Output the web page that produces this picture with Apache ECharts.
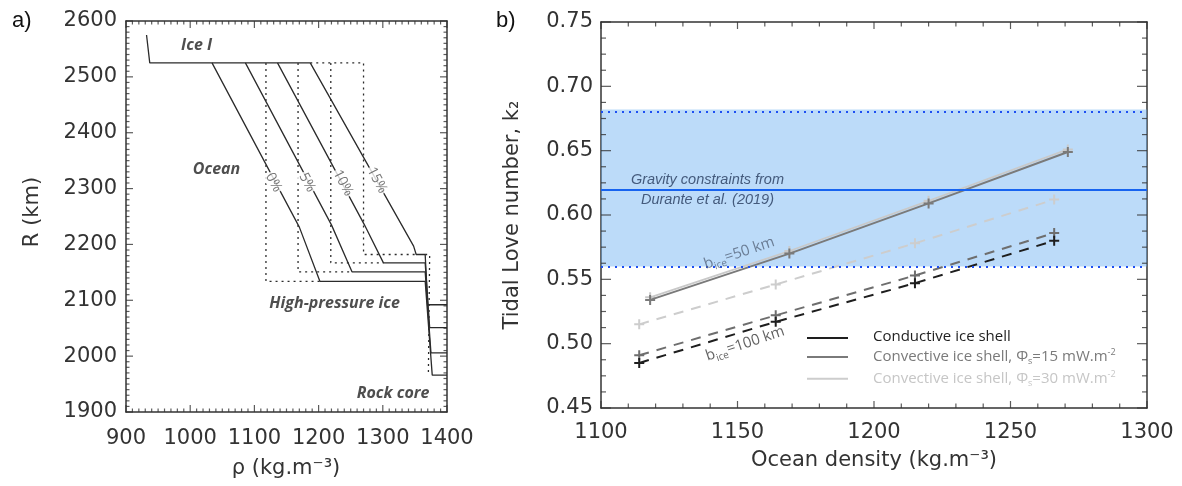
<!DOCTYPE html>
<html>
<head>
<meta charset="utf-8">
<script src="https://cdn.jsdelivr.net/npm/echarts@6/dist/echarts.min.js"></script>
<style>
  html, body { margin: 0; padding: 0; background: #fff; }
  #chart { width: 1182px; height: 486px; }
</style>
</head>
<body>
<div id="chart"></div>
<script>
// ---- panel a: density profiles, points are [rho (kg/m3), R (km)]
const iceShell = [[932, 2575], [937, 2525], [1187, 2525]]
const ocean0 = [[1034, 2525], [1170, 2231], [1202, 2134], [1366, 2134], [1377, 1966], [1400, 1966]]
const ocean5 = [[1086, 2525], [1220, 2235], [1252, 2151], [1366, 2151], [1375, 2006], [1400, 2006]]
const ocean10 = [[1136, 2525], [1271, 2236], [1301, 2167], [1366, 2167], [1373, 2051], [1400, 2051]]
const ocean15 = [[1187, 2525], [1348, 2197], [1352, 2182], [1366, 2182], [1370, 2092], [1400, 2092]]
const constRho0 = [[1118, 2525], [1118, 2134], [1202, 2134]]
const constRho5 = [[1168, 2525], [1168, 2151], [1252, 2151]]
const constRho10 = [[1219, 2525], [1219, 2167], [1301, 2167]]
const constRho15 = [[1187, 2525], [1270, 2525], [1270, 2182], [1352, 2182]]
const constRhoHP = [[1366, 2182], [1373, 2182], [1371, 1967]]
const salinityLabels = ['0%', '5%', '10%', '15%']

// ---- panel b: k2 versus ocean density
const density50 = [1118, 1169, 1220, 1271]
const density100 = [1114, 1164, 1215, 1266]
const k2Conv15Thin = [0.534, 0.570, 0.609, 0.649]
const k2Conv30Thin = [0.536, 0.572, 0.611, 0.651]
const k2CondThick = [0.485, 0.517, 0.547, 0.580]
const k2Conv15Thick = [0.491, 0.522, 0.553, 0.586]
const k2Conv30Thick = [0.515, 0.546, 0.578, 0.612]
const gravityLow = 0.560
const gravityMid = 0.620
const gravityHigh = 0.682

// axis ranges: [min, max, major step, minor step]
const rangeRho = [900, 1400, 100, 10]
const rangeR = [1900, 2600, 100, 10]
const rangeDensity = [1100, 1300, 50, 10]
const rangeK2 = [0.45, 0.75, 0.05, 0.0125]

const NAME_COND = 'Conductive ice shell'
const NAME_C15 = 'Convective ice shell, Φs=15 mW.m-2'
const NAME_C30 = 'Convective ice shell, Φs=30 mW.m-2'

const zip = (xs, ys) => xs.map((x, i) => [x, ys[i]])

const AX = '#333'
const TICK_FONT = 'DejaVu Sans'
const PLUS = 'path://M4,0 L6,0 L6,4 L10,4 L10,6 L6,6 L6,10 L4,10 L4,6 L0,6 L0,4 L4,4 Z'
const HIDDEN = {color: 'rgba(0,0,0,0)'}
const LEGEND_ICON = 'path://M0,0 L41,0 L41,2 L0,2 Z M61,0 L61,2 Z'

function steps (r, step) {
  const out = []
  const n = Math.round((r[1] - r[0]) / step)
  for (let i = 0; i <= n; i++) out.push(+(r[0] + i * step).toFixed(6))
  return out
}

function valueAxis (r, extra) {
  return Object.assign({
    type: 'value', min: r[0], max: r[1], interval: r[2],
    axisLine: {show: true, onZero: false, lineStyle: {color: AX, width: 1.5}},
    axisTick: {show: false},
    splitLine: {show: false},
    axisLabel: {show: false}
  }, extra)
}
const label = (margin, fmt) => ({show: true, color: AX, fontFamily: TICK_FONT, fontSize: 21, margin: margin, formatter: fmt || (v => String(v))})

// inward tick marks on all four sides, as thin rect symbols placed by the axes' scales
function boxTicks (xi, yi, xr, yr, len) {
  const data = []
  const xMajor = steps(xr, xr[2])
  const yMajor = steps(yr, yr[2])
  steps(xr, xr[3]).forEach(v => {
    const l = xMajor.some(m => Math.abs(m - v) < 1e-9) ? len.xMajor : len.xMinor
    data.push({value: [v, yr[0]], symbolSize: [1.2, l], symbolOffset: [0, -l / 2]})
    data.push({value: [v, yr[1]], symbolSize: [1.2, l], symbolOffset: [0, l / 2]})
  })
  steps(yr, yr[3]).forEach(v => {
    const l = yMajor.some(m => Math.abs(m - v) < 1e-9) ? len.yMajor : len.yMinor
    data.push({value: [xr[0], v], symbolSize: [l, 1.2], symbolOffset: [l / 2, 0]})
    data.push({value: [xr[1], v], symbolSize: [l, 1.2], symbolOffset: [-l / 2, 0]})
  })
  return {
    type: 'scatter', xAxisIndex: xi, yAxisIndex: yi, symbol: 'rect', data: data,
    itemStyle: {color: AX}, silent: true, clip: false, z: 1, large: false
  }
}

function profile (data, dotted) {
  return {
    type: 'line', xAxisIndex: 0, yAxisIndex: 0, data: data, symbol: 'none', silent: true,
    lineStyle: {color: '#2b2b2b', width: 1.3, type: dotted ? [2, 4] : 'solid'}, z: 3
  }
}

function kLine (name, xs, ys, color, dashed, z, width) {
  return {
    name: name, type: 'line', xAxisIndex: 1, yAxisIndex: 1, data: zip(xs, ys),
    symbol: PLUS, symbolSize: 10, showSymbol: true, z: z,
    itemStyle: {color: color},
    lineStyle: {color: color, width: width || 2, type: dashed ? [10, 8] : 'solid'}
  }
}

const chart = echarts.init(document.getElementById('chart'))
const option = {
  animation: false,
  backgroundColor: '#fff',
  grid: [
    {left: 126, top: 21, right: 735, bottom: 74},
    {left: 601, top: 22, right: 35, bottom: 78}
  ],
  xAxis: [
    valueAxis(rangeRho, {gridIndex: 0, axisLabel: label(16)}),
    valueAxis(rangeDensity, {gridIndex: 1, axisLabel: label(14), name: 'Ocean density (kg.m⁻³)', nameLocation: 'middle', nameGap: 42,
      nameTextStyle: {fontFamily: TICK_FONT, fontSize: 21, color: AX}}),
    valueAxis(rangeRho, {gridIndex: 0, position: 'top'}),
    valueAxis(rangeDensity, {gridIndex: 1, position: 'top'})
  ],
  yAxis: [
    valueAxis(rangeR, {gridIndex: 0, axisLabel: label(9)}),
    valueAxis(rangeK2, {gridIndex: 1, axisLabel: label(8, v => v.toFixed(2)), name: 'Tidal Love number, k₂', nameLocation: 'middle', nameGap: 78,
      nameTextStyle: {fontFamily: TICK_FONT, fontSize: 21, color: AX}}),
    valueAxis(rangeR, {gridIndex: 0, position: 'right'}),
    valueAxis(rangeK2, {gridIndex: 1, position: 'right'})
  ],
  legend: {
    left: 802, top: 324, orient: 'vertical', itemWidth: 61, itemHeight: 2, itemGap: 4.4, selectedMode: false,
    textStyle: {fontFamily: 'Open Sans', fontSize: 15, height: 18,
      rich: {sub: {fontSize: 9, padding: [9, 0, 0, 0]}, sup: {fontSize: 9, padding: [0, 0, 8, 0]}}},
    formatter: n => n.replace('Φs', 'Φ{sub|s}').replace('m-2', 'm{sup|-2}'),
    data: [
      {name: NAME_COND, icon: LEGEND_ICON, itemStyle: {color: '#1e1e1e'}, textStyle: {color: '#222'}},
      {name: NAME_C15, icon: LEGEND_ICON, itemStyle: {color: '#7a7a7a'}, textStyle: {color: '#7a7a7a'}},
      {name: NAME_C30, icon: LEGEND_ICON, itemStyle: {color: '#cdcdcd'}, textStyle: {color: '#c6c6c6'}}
    ]
  },
  graphic: [
    {type: 'text', left: 12, top: 10, style: {text: 'a)', font: '22px Liberation Sans', fill: '#111'}},
    {type: 'text', left: 496, top: 10, style: {text: 'b)', font: '22px Liberation Sans', fill: '#111'}},
    {type: 'text', x: 286, y: 469, style: {text: 'ρ (kg.m⁻³)', font: '21px DejaVu Sans', fill: AX, align: 'center', verticalAlign: 'middle'}},
    {type: 'text', x: 33, y: 212, rotation: Math.PI / 2, style: {text: 'R (km)', font: '21px DejaVu Sans', fill: AX, align: 'center', verticalAlign: 'middle'}}
  ],
  series: [
    boxTicks(0, 0, rangeRho, rangeR, {xMajor: 7, xMinor: 3.5, yMajor: 7, yMinor: 3.5}),
    boxTicks(1, 1, rangeDensity, rangeK2, {xMajor: 7, xMinor: 4.5, yMajor: 10, yMinor: 5}),
    profile(iceShell, false),
    profile(ocean0, false), profile(ocean5, false), profile(ocean10, false), profile(ocean15, false),
    profile(constRho0, true), profile(constRho5, true), profile(constRho10, true), profile(constRho15, true), profile(constRhoHP, true),
    {
      type: 'scatter', xAxisIndex: 0, yAxisIndex: 0, symbol: 'circle', symbolSize: 1, itemStyle: HIDDEN, silent: true, z: 6,
      label: {show: true, position: 'inside', formatter: '{b}', fontFamily: 'Open Sans', fontSize: 16,
        fontWeight: 'bold', fontStyle: 'italic', color: '#222'},
      data: [
        {name: 'Ice I', value: [1010, 2557]},
        {name: 'Ocean', value: [1041, 2335]},
        {name: 'High-pressure ice', value: [1225, 2094]},
        {name: 'Rock core', value: [1316, 1934]}
      ]
    },
    {
      type: 'scatter', xAxisIndex: 0, yAxisIndex: 0, symbol: 'circle', symbolSize: 1, itemStyle: HIDDEN, silent: true, z: 6,
      label: {show: true, position: 'inside', formatter: '{b}', fontFamily: 'Open Sans', fontSize: 14,
        color: '#555', rotate: -62, backgroundColor: '#fff', padding: [0, 1]},
      data: [
        {name: salinityLabels[0], value: [1130, 2311]},
        {name: salinityLabels[1], value: [1182, 2311]},
        {name: salinityLabels[2], value: [1238, 2310]},
        {name: salinityLabels[3], value: [1291, 2315]}
      ]
    },
    kLine(NAME_C15, density50, k2Conv15Thin, '#7a7a7a', false, 3),
    kLine(NAME_C30, density50, k2Conv30Thin, '#c9c9c9', false, 2, 1.8),
    kLine(NAME_C30, density100, k2Conv30Thick, '#cdcdcd', true, 2),
    kLine(NAME_C15, density100, k2Conv15Thick, '#6e6e6e', true, 3),
    kLine(NAME_COND, density100, k2CondThick, '#1e1e1e', true, 4),
    {
      type: 'line', xAxisIndex: 1, yAxisIndex: 1, data: [], silent: true, z: 8,
      markArea: {silent: true, itemStyle: {color: 'rgba(100,172,242,0.43)'}, data: [[{yAxis: gravityLow}, {yAxis: gravityHigh}]]},
      markLine: {
        silent: true, symbol: 'none', label: {show: false},
        data: [
          {yAxis: gravityHigh, lineStyle: {color: '#1d4ff2', width: 2, type: [2, 5]}},
          {yAxis: gravityLow, lineStyle: {color: '#1d4ff2', width: 2, type: [2, 5]}},
          {yAxis: gravityMid, lineStyle: {color: '#1763f0', width: 2, type: 'solid'}}
        ]
      }
    },
    {
      type: 'scatter', xAxisIndex: 1, yAxisIndex: 1, symbol: 'circle', symbolSize: 1, itemStyle: HIDDEN, silent: true, z: 10,
      label: {show: true, position: 'inside', formatter: '{b}', fontFamily: 'Liberation Sans', fontSize: 14.5,
        fontStyle: 'italic', color: '#26395c'},
      data: [
        {name: 'Gravity constraints from', value: [1139, 0.627]},
        {name: 'Durante et al. (2019)', value: [1139, 0.6115]}
      ]
    },
    {
      type: 'scatter', xAxisIndex: 1, yAxisIndex: 1, symbol: 'circle', symbolSize: 1, itemStyle: HIDDEN, silent: true, z: 10,
      label: {show: true, position: 'inside', rotate: 18.5, fontFamily: 'Open Sans', fontSize: 15,
        rich: {t: {fontSize: 15}, s: {fontSize: 10, padding: [10, 0, 0, 0]}}},
      data: [
        {name: 'b50', value: [1150.6, 0.5703], label: {formatter: '{t|b}{s|ice}{t|=50 km}', color: '#56657c'}},
        {name: 'b100', value: [1152.8, 0.4999], label: {formatter: '{t|b}{s|ice}{t|=100 km}', color: '#3a3a3a'}}
      ]
    }
  ]
}
chart.setOption(option)
</script>
</body>
</html>
